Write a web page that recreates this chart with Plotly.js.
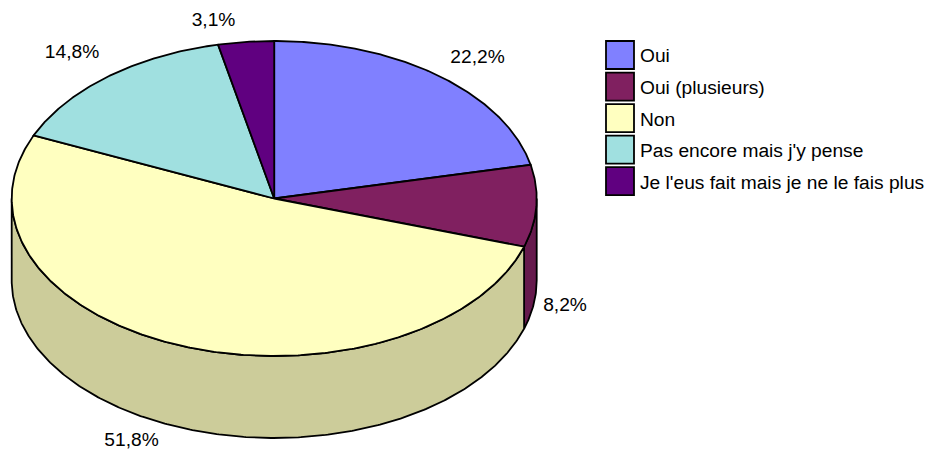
<!DOCTYPE html>
<html>
<head>
<meta charset="utf-8">
<script src="https://cdn.plot.ly/plotly-3.0.1.min.js"></script>
<style>
html,body{margin:0;padding:0;background:#fff}
#chart{width:926px;height:450px}
#chart .legend .legendpoints path.scatterpts{d:path("M-10,-14H18V14H-10Z");stroke-width:1.8px !important}
#chart .legend text.legendtext{transform:translateX(4px)}
</style>
</head>
<body>
<div id="chart"></div>
<script>
const categories = ["Oui", "Oui (plusieurs)", "Non", "Pas encore mais j'y pense", "Je l'eus fait mais je ne le fais plus"];
const percents = [22.2, 8.2, 51.8, 14.8, 3.1];
const percentLabels = ["22,2%", "8,2%", "51,8%", "14,8%", "3,1%"];
const topColors = ["#8080FF", "#802060", "#FFFFC0", "#A0E0E0", "#600080"];
const sideColors = ["#666ACC", "#661A4D", "#CCCC9A", "#80B3B3", "#4D0066"];

// Drawing geometry of the tilted disc (in the plot's pixel-sized data units)
const cx = 274.2, cy = 198.5, rx = 262.5, ry = 157.5, depth = 82;
// Slight angular shift of the slice ends caused by the original's perspective
const endShift = [-2.2, -1.5, -2, -1.2, 0];
const labelPos = [[477.5, 58.5], [565, 306.5], [131.5, 441.5], [72, 53.5], [213.5, 21.5]];

const total = percents.reduce((a, b) => a + b, 0);
let running = 0;
const ends = percents.map((v, i) => { running += v; return running / total * 360 + endShift[i]; });
const starts = ends.map((e, i) => i === 0 ? 0 : ends[i - 1]);

const px = d => cx + rx * Math.sin(d * Math.PI / 180);
const py = d => cy - ry * Math.cos(d * Math.PI / 180);
function arc(a, b) {
  const out = [];
  const n = Math.max(2, Math.ceil((b - a) * 2));
  for (let k = 0; k <= n; k++) out.push(a + (b - a) * k / n);
  return out;
}
const line = {color: "#000", width: 1.8};
const traces = [];

// Visible outer wall (front half of the disc)
percents.forEach((v, i) => {
  const a = Math.max(starts[i], 90), b = Math.min(ends[i], 270);
  if (b <= a) return;
  const angs = arc(a, b);
  const xs = angs.map(px).concat(angs.slice().reverse().map(px));
  const ys = angs.map(d => py(d) + depth).concat(angs.slice().reverse().map(py));
  xs.push(xs[0]); ys.push(ys[0]);
  traces.push({type: "scatter", mode: "lines", x: xs, y: ys, fill: "toself", fillcolor: sideColors[i],
    line, hoverinfo: "skip", showlegend: false});
});

// Top face slices
percents.forEach((v, i) => {
  const angs = arc(starts[i], ends[i]);
  const xs = [cx].concat(angs.map(px), [cx]);
  const ys = [cy].concat(angs.map(py), [cy]);
  traces.push({type: "scatter", mode: "lines", x: xs, y: ys, fill: "toself", fillcolor: topColors[i],
    line, name: categories[i], text: percentLabels[i], hoverinfo: "name+text", showlegend: false});
});

// Percent labels
traces.push({type: "scatter", mode: "text", x: labelPos.map(p => p[0]), y: labelPos.map(p => p[1]),
  text: percentLabels, textposition: "middle center",
  textfont: {family: "Liberation Sans, Arial, sans-serif", size: 19.2, color: "#000"},
  hoverinfo: "skip", showlegend: false});

// Legend entries
categories.forEach((c, i) => {
  traces.push({type: "scatter", mode: "markers", x: [null], y: [null], name: c, legendgroup: "g" + i,
    marker: {symbol: "square", size: 16, color: topColors[i], line: {color: "#000", width: 1.8}}, showlegend: true});
});

const layout = {
  width: 926, height: 450,
  margin: {l: 0, r: 0, t: 0, b: 0},
  paper_bgcolor: "#fff", plot_bgcolor: "#fff",
  xaxis: {range: [0, 926], visible: false, fixedrange: true},
  yaxis: {range: [450, 0], visible: false, fixedrange: true},
  legend: {x: 596 / 926, xanchor: "left", y: 1 - 36 / 450, yanchor: "top",
    traceorder: "grouped", tracegroupgap: 3.6,
    bgcolor: "rgba(0,0,0,0)", font: {family: "Liberation Sans, Arial, sans-serif", size: 19.2, color: "#000"}},
  showlegend: true
};
Plotly.newPlot("chart", traces, layout, {displayModeBar: false, staticPlot: true});
</script>
</body>
</html>
